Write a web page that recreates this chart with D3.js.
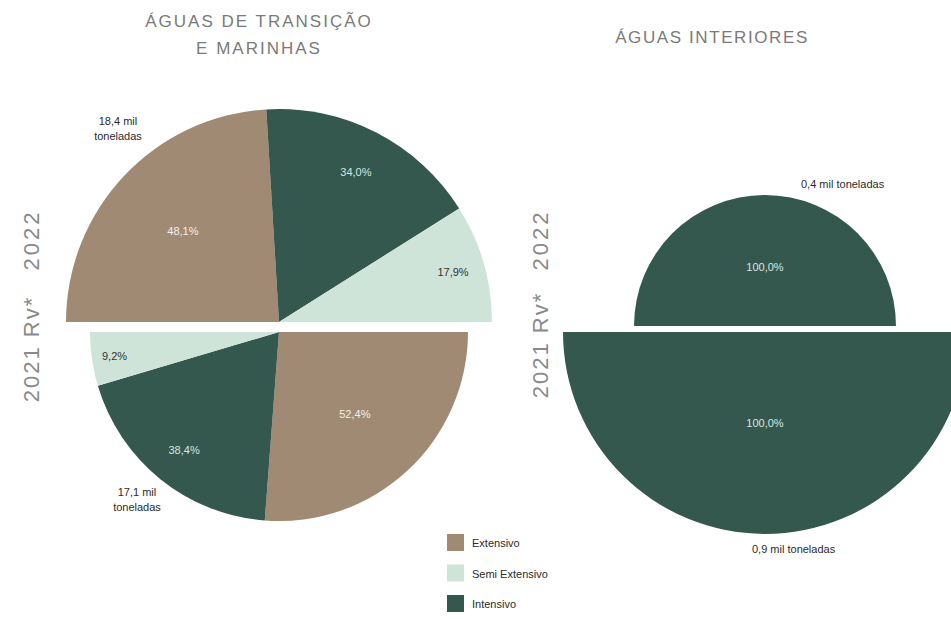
<!DOCTYPE html>
<html>
<head>
<meta charset="utf-8">
<script src="https://cdn.jsdelivr.net/npm/d3@7"></script>
<style>
  body { margin: 0; background: #fff; }
  text { font-family: "Liberation Sans", Arial, sans-serif; }
</style>
</head>
<body>
<svg id="chart" width="951" height="619"></svg>
<script>
// data
const categories = ["Extensivo", "Intensivo", "Semi Extensivo"];
const legendOrder = ["Extensivo", "Semi Extensivo", "Intensivo"];
const colors = ["#a08a73", "#34574e", "#cfe4d8"];

const marinhas2022 = [48.1, 34.0, 17.9];
const marinhas2021 = [52.4, 38.4, 9.2];
const interiores2022 = [0, 100.0, 0];
const interiores2021 = [0, 100.0, 0];

const tonnes = ["18,4 mil toneladas", "17,1 mil toneladas", "0,4 mil toneladas", "0,9 mil toneladas"];
const yearLabels = ["2022", "2021 Rv*"];
const panelTitles = [["ÁGUAS DE TRANSIÇÃO", "E MARINHAS"], ["ÁGUAS INTERIORES"]];

const svg = d3.select("#chart");
const color = d3.scaleOrdinal().domain(categories).range(colors);

// label distance from centre, as a share of radius, by slice size
const labelPos = d3.scaleLinear()
  .domain([0.09, 0.18, 0.34, 0.384, 0.481, 0.524, 1])
  .range([0.88, 0.85, 0.79, 0.80, 0.62, 0.59, 0.45])
  .clamp(true);

const textColor = { "Extensivo": "#f4efe9", "Intensivo": "#d9e6e0", "Semi Extensivo": "#333" };

function halfPie(values, cx, cy, r, top) {
  const pie = d3.pie()
    .value(d => d.value)
    .sort(null)
    .startAngle(top ? -Math.PI / 2 : Math.PI / 2)
    .endAngle(top ? Math.PI / 2 : Math.PI * 3 / 2);
  const rows = categories.map((c, i) => ({ key: c, value: values[i] }));
  const arcs = pie(rows).filter(d => d.value > 0);
  const arc = d3.arc().innerRadius(0).outerRadius(r);
  const total = d3.sum(values);

  const g = svg.append("g").attr("transform", `translate(${cx},${cy})`);
  g.selectAll("path")
    .data(arcs)
    .enter().append("path")
    .attr("d", arc)
    .attr("fill", d => color(d.data.key));

  g.selectAll("text")
    .data(arcs)
    .enter().append("text")
    .attr("transform", d => {
      const a = (d.startAngle + d.endAngle) / 2;
      const k = labelPos(d.value / total) * r;
      return `translate(${Math.sin(a) * k},${-Math.cos(a) * k + 4})`;
    })
    .attr("text-anchor", "middle")
    .style("font-size", "11px")
    .attr("fill", d => textColor[d.data.key])
    .text(d => d.value.toFixed(1).replace(".", ",") + "%");
}

// left panel
halfPie(marinhas2022, 279, 322, 213, true);
halfPie(marinhas2021, 279, 332, 189, false);
// right panel
halfPie(interiores2022, 765, 326, 131, true);
halfPie(interiores2021, 765, 332, 202, false);

// titles
const titleX = [259, 712];
const titleY = [27, 43];
panelTitles.forEach((lines, i) => {
  const t = svg.append("text")
    .attr("x", titleX[i]).attr("y", titleY[i])
    .attr("text-anchor", "middle")
    .attr("fill", "#7a7a7a")
    .style("font-size", "17px")
    .style("letter-spacing", i ? "1.6px" : "2px");
  lines.forEach((l, j) => {
    t.append("tspan").attr("x", titleX[i]).attr("dy", j ? 27 : 0).text(l);
  });
});

// year labels
const yearX = [39, 548];
const yearY = [[240, 349], [240, 345]];
yearX.forEach((x, p) => {
  yearLabels.forEach((lab, i) => {
    svg.append("text")
      .attr("transform", `translate(${x},${yearY[p][i]}) rotate(-90)`)
      .attr("text-anchor", "middle")
      .attr("fill", "#8a8a8a")
      .style("font-size", "22px")
      .style("letter-spacing", i ? "2px" : "3px")
      .text(lab);
  });
});

// tonnage notes
function note(x, y, lines, anchor) {
  const t = svg.append("text")
    .attr("x", x).attr("y", y)
    .attr("text-anchor", anchor)
    .attr("fill", "#2b2b2b")
    .style("font-size", "11px");
  lines.forEach((l, j) => t.append("tspan").attr("x", x).attr("dy", j ? 15 : 0).text(l));
}
note(118, 125, tonnes[0].split(/ (?=toneladas)/), "middle");
note(137, 496, tonnes[1].split(/ (?=toneladas)/), "middle");
note(801, 188, [tonnes[2]], "start");
note(752, 553, [tonnes[3]], "start");

// legend
const legend = svg.append("g").attr("transform", "translate(447,534)");
const item = legend.selectAll("g")
  .data(legendOrder)
  .enter().append("g")
  .attr("transform", (d, i) => `translate(0,${i * 30.5})`);
item.append("rect")
  .attr("width", 17).attr("height", 17)
  .attr("fill", d => color(d));
item.append("text")
  .attr("x", 25).attr("y", 13)
  .attr("fill", "#2b2b2b")
  .style("font-size", "11px")
  .text(d => d);
</script>
</body>
</html>
